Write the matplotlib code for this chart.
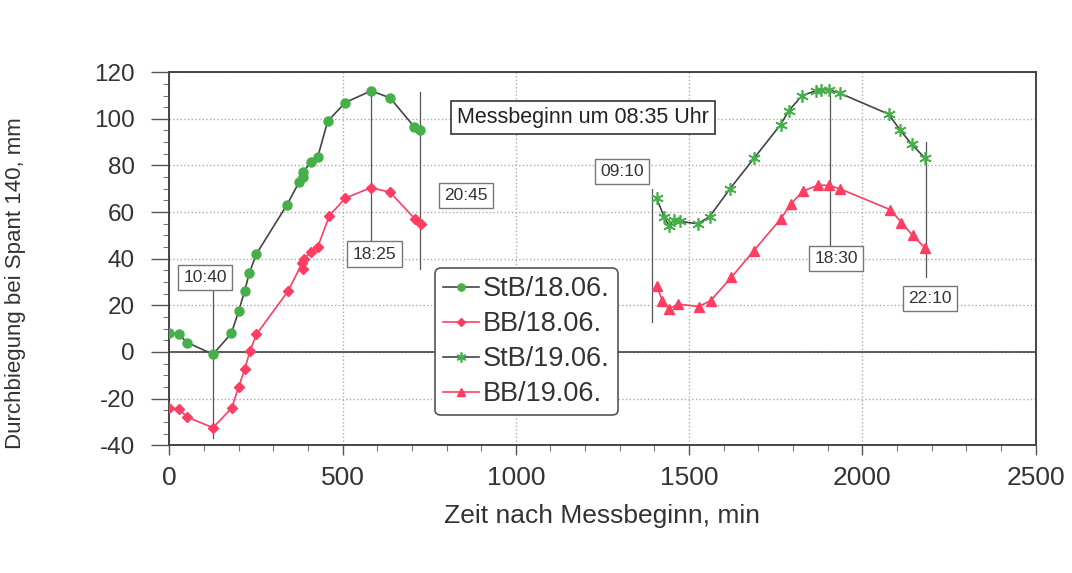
import matplotlib
matplotlib.use("Agg")
import matplotlib.pyplot as plt
from matplotlib.ticker import MultipleLocator

plt.rcParams["font.family"] = ["Liberation Sans", "DejaVu Sans"]
plt.rcParams["axes.unicode_minus"] = False

# StB / BB deflection, day 1 (18.06.)
stb18_x = [0, 27, 52, 126, 179, 200, 217, 231, 251, 339, 375, 385, 385, 409, 428, 457, 508, 582, 637, 707, 724]
stb18_y = [8, 7.5, 4, -1, 8, 17.5, 26, 34, 42, 63, 73, 75, 77, 81.5, 83.5, 99, 107, 112, 109, 96.5, 95]
bb18_x = [0, 27, 52, 126, 180, 200, 217, 233, 251, 342, 383, 386, 390, 409, 428, 462, 508, 582, 637, 709, 726]
bb18_y = [-24, -24.5, -28, -32.5, -24, -15, -7.5, 0.5, 7.5, 26, 38, 35.5, 40, 43, 45, 58.5, 66, 70.5, 68.5, 57, 55]

# day 2 (19.06.)
stb19_x = [1406, 1428, 1442, 1456, 1473, 1525, 1559, 1618, 1687, 1764, 1788, 1826, 1865, 1881, 1903, 1935, 2076, 2110, 2143, 2182]
stb19_y = [66, 58, 54, 56.5, 56, 55, 58, 70, 83, 97.5, 103.5, 110, 112, 112.5, 112.5, 111, 102, 95, 89, 83]
bb19_x = [1406, 1423, 1442, 1468, 1528, 1562, 1622, 1687, 1764, 1794, 1829, 1872, 1903, 1935, 2081, 2113, 2145, 2182]
bb19_y = [28.5, 22, 18.5, 20.5, 19.5, 22, 32, 43.5, 57, 63.5, 69, 71.5, 71.5, 70, 61, 55.5, 50, 44.5]

# time marks: label, box position, vertical line (x, y from, y to)
marks = [
    ("10:40", 104, 32, 126, 27, -37),
    ("18:25", 592, 42, 582, 46.5, 112),
    ("20:45", 855, 67, 724, 35.5, 111.5),
    ("09:10", 1306, 77.5, 1392, 13, 70),
    ("18:30", 1924, 40, 1906, 46, 112.5),
    ("22:10", 2196, 23, 2184, 32, 90),
]

green = "#45b04a"
red = "#ff3d63"
dark = "#444444"

fig = plt.figure(figsize=(10.72, 5.73), dpi=100)
ax = fig.add_axes([0.158, 0.223, 0.808, 0.651])

ax.plot(stb18_x, stb18_y, color=dark, lw=1.2, marker="o", ms=6.5,
        mfc=green, mec=green, label="StB/18.06.", zorder=4)
ax.plot(bb18_x, bb18_y, color=red, lw=1.2, marker="D", ms=5.5,
        mfc=red, mec=red, label="BB/18.06.", zorder=4)
ax.plot(stb19_x, stb19_y, color=dark, lw=1.2, marker=(6, 2, 0), ms=9,
        mfc=green, mec=green, mew=1.2, label="StB/19.06.", zorder=4)
ax.plot(bb19_x, bb19_y, color=red, lw=1.2, marker="^", ms=7,
        mfc=red, mec=red, label="BB/19.06.", zorder=4)

for lab, bx, by, lx, y0, y1 in marks:
    ax.plot([lx, lx], [y0, y1], color="#555555", lw=0.9, zorder=3)
    ax.text(bx, by, lab, ha="center", va="center", fontsize=12.5, color="#333333",
            bbox=dict(boxstyle="square,pad=0.3", fc="white", ec="#777777", lw=1),
            zorder=5)

ax.text(1193, 100.5, "Messbeginn um 08:35 Uhr", ha="center", va="center",
        fontsize=15.5, color="#222222",
        bbox=dict(boxstyle="square,pad=0.28", fc="white", ec="#333333", lw=1.2),
        zorder=5)

ax.axhline(0, color="#444444", lw=1.2, zorder=2)

ax.set_xlim(0, 2500)
ax.set_ylim(-40, 120)
ax.xaxis.set_major_locator(MultipleLocator(500))
ax.xaxis.set_minor_locator(MultipleLocator(100))
ax.yaxis.set_major_locator(MultipleLocator(20))
ax.yaxis.set_minor_locator(MultipleLocator(5))
ax.grid(True, which="major", color="#aaaaaa", ls=":", lw=1)
ax.tick_params(which="major", width=1, color="#555555", labelcolor="#333333")
ax.tick_params(which="minor", length=4, width=0.8, color="#777777")
ax.tick_params(axis="y", which="major", length=13, labelsize=17.5, pad=12)
ax.tick_params(axis="x", which="major", length=7, labelsize=19, pad=8)
for s in ax.spines.values():
    s.set_color("#444444")
    s.set_linewidth(1.4)

ax.set_xlabel("Zeit nach Messbeginn, min", fontsize=19, color="#333333", labelpad=10)
ax.set_ylabel("Durchbiegung bei Spant 140, mm", fontsize=16, color="#333333")
ax.yaxis.set_label_coords(-0.166, 0.434)

leg = ax.legend(loc="lower left", bbox_to_anchor=(0.307, 0.08), fontsize=19.5,
                fancybox=True, framealpha=1, edgecolor="#555555",
                handlelength=1.3, handletextpad=0.15, labelspacing=0.33,
                borderpad=0.3, borderaxespad=0, markerscale=0.8)
leg.get_frame().set_linewidth(1.2)
leg.set_zorder(6)
for t in leg.get_texts():
    t.set_color("#333333")

fig.savefig("out.png", dpi=100)
